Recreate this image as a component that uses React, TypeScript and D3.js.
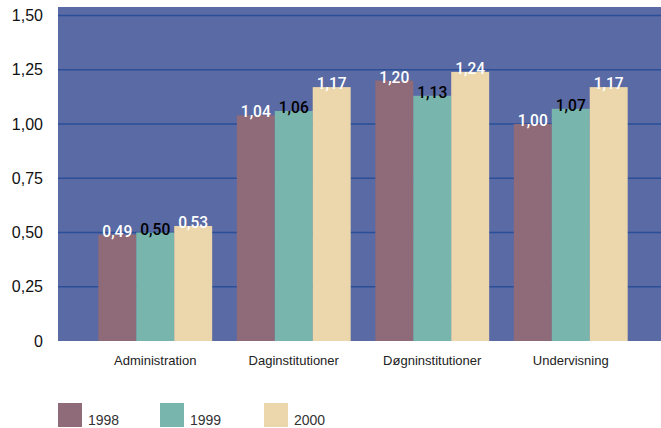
import { useEffect, useRef } from "react";
import * as d3 from "d3";

const categories = ["Administration", "Daginstitutioner", "Døgninstitutioner", "Undervisning"];
const years = ["1998", "1999", "2000"];
const values1998 = [0.49, 1.04, 1.2, 1.0];
const values1999 = [0.5, 1.06, 1.13, 1.07];
const values2000 = [0.53, 1.17, 1.24, 1.17];
const yTicks = [0, 0.25, 0.5, 0.75, 1.0, 1.25, 1.5];

const colors = ["#8f6a78", "#78b5ac", "#ecd7ac"];
const labelColors = ["#ffffff", "#000000", "#ffffff"];

const fmt = (v: number) => (v === 0 ? "0" : v.toFixed(2).replace(".", ","));

const App = () => {
  const svgRef = useRef<SVGSVGElement | null>(null);

  useEffect(() => {
    const width = 661;
    const height = 428;
    const plot = { left: 58, right: 661, top: 7, bottom: 341 };

    const svg = d3.select(svgRef.current);
    svg.selectAll("*").remove();
    svg.attr("width", width).attr("height", height);

    const series = [values1998, values1999, values2000];

    // scales
    const x = d3
      .scaleBand()
      .domain(categories)
      .range([86, 640])
      .paddingInner(0.178)
      .paddingOuter(0.089);

    const xInner = d3.scaleBand().domain(years).range([0, x.bandwidth()]);

    const y = d3.scaleLinear().domain([0, 1.5]).range([341, 15.5]);

    // plot background
    svg
      .append("rect")
      .attr("x", plot.left)
      .attr("y", plot.top)
      .attr("width", plot.right - plot.left)
      .attr("height", plot.bottom - plot.top)
      .attr("fill", "#5a6aa4");

    // gridlines
    svg
      .selectAll(".grid")
      .data(yTicks.filter((t) => t > 0))
      .enter()
      .append("line")
      .attr("x1", plot.left)
      .attr("x2", plot.right)
      .attr("y1", (d) => y(d))
      .attr("y2", (d) => y(d))
      .attr("stroke", "#2a4f98")
      .attr("stroke-width", 1.5);

    // y tick labels
    svg
      .selectAll(".ytick")
      .data(yTicks)
      .enter()
      .append("text")
      .attr("x", 43)
      .attr("y", (d) => y(d))
      .attr("text-anchor", "end")
      .attr("dominant-baseline", "central")
      .attr("fill", "#111")
      .style("font-family", "'Liberation Sans', Arial, sans-serif")
      .style("font-size", "16px")
      .style("font-weight", 500)
      .text((d) => fmt(d));

    // bars + value labels
    categories.forEach((cat, i) => {
      years.forEach((yr, j) => {
        const v = series[j][i];
        const bx = (x(cat) ?? 0) + (xInner(yr) ?? 0);
        const bw = xInner.bandwidth();
        svg
          .append("rect")
          .attr("x", bx)
          .attr("y", y(v))
          .attr("width", bw)
          .attr("height", y(0) - y(v))
          .attr("fill", colors[j]);

        // condensed look: squeeze the glyphs to the width seen in the original
        svg
          .append("text")
          .attr("x", bx + bw / 2)
          .attr("y", y(v) + 2)
          .attr("text-anchor", "middle")
          .attr("textLength", 30)
          .attr("lengthAdjust", "spacingAndGlyphs")
          .attr("fill", labelColors[j])
          .style("font-family", "Roboto, sans-serif")
          .style("font-weight", 500)
          .style("font-size", "17px")
          .text(fmt(v));
      });
    });

    // category labels
    svg
      .selectAll(".xlabel")
      .data(categories)
      .enter()
      .append("text")
      .attr("x", (d) => (x(d) ?? 0) + x.bandwidth() / 2)
      .attr("y", 365)
      .attr("text-anchor", "middle")
      .attr("fill", "#222")
      .style("font-family", "'Liberation Sans', Arial, sans-serif")
      .style("font-size", "13px")
      .text((d) => d);

    // legend
    const legendX = [58, 160, 264];
    years.forEach((yr, j) => {
      svg
        .append("rect")
        .attr("x", legendX[j])
        .attr("y", 403)
        .attr("width", 24)
        .attr("height", 24)
        .attr("fill", colors[j]);
      svg
        .append("text")
        .attr("x", legendX[j] + 30)
        .attr("y", 425)
        .attr("fill", "#333")
        .style("font-family", "'Liberation Sans', Arial, sans-serif")
        .style("font-size", "14px")
        .text(yr);
    });
  }, []);

  return (
    <div style={{ position: "absolute", left: 0, top: 0 }}>
      <svg ref={svgRef} style={{ display: "block" }}></svg>
    </div>
  );
};

export default App;
